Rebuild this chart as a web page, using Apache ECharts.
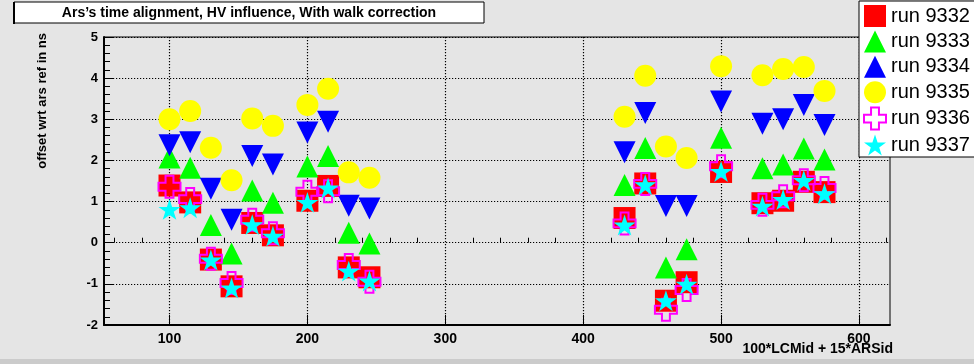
<!DOCTYPE html>
<html>
<head>
<meta charset="utf-8">
<script src="https://cdn.jsdelivr.net/npm/echarts@6/dist/echarts.min.js"></script>
<style>
html,body{margin:0;padding:0;background:#e5e5e5;}
#chart{width:974px;height:364px;}
</style>
</head>
<body>
<div id="chart"></div>
<script>
// ---- data ----
const xPositions = [100, 115, 130, 145, 160, 175, 200, 215, 230, 245, 430, 445, 460, 475, 500, 530, 545, 560, 575];
const run9332 = [1.39, 0.98, -0.41, -1.06, 0.48, 0.18, 1.02, 1.38, -0.60, -0.84, 0.60, 1.44, -1.41, -0.96, 1.72, 0.96, 1.02, 1.48, 1.23];
const run9333 = [2.07, 1.82, 0.43, -0.26, 1.27, 0.97, 1.85, 2.11, 0.24, -0.02, 1.40, 2.30, -0.60, -0.16, 2.55, 1.81, 1.90, 2.29, 2.02];
const run9334 = [2.37, 2.44, 1.31, 0.56, 2.11, 1.90, 2.68, 2.94, 0.90, 0.83, 2.20, 3.15, 0.89, 0.89, 3.43, 2.89, 3.00, 3.35, 2.86];
const run9335 = [3.00, 3.20, 2.31, 1.52, 3.02, 2.84, 3.35, 3.74, 1.71, 1.58, 3.06, 4.06, 2.34, 2.06, 4.29, 4.07, 4.22, 4.27, 3.69];
const run9336 = [1.36, 1.06, -0.39, -0.98, 0.56, 0.23, 1.24, 1.25, -0.54, -0.95, 0.47, 1.43, -1.63, -1.15, 1.86, 0.92, 1.13, 1.52, 1.33];
const run9337 = [0.81, 0.85, -0.42, -1.10, 0.44, 0.16, 0.98, 1.33, -0.69, -0.93, 0.43, 1.41, -1.41, -1.01, 1.73, 0.89, 1.05, 1.51, 1.19];
const seriesNames = ['run 9332', 'run 9333', 'run 9334', 'run 9335', 'run 9336', 'run 9337'];
const xMajorTicks = [100, 200, 300, 400, 500, 600];
const xMinorTicks = [60, 80, 120, 140, 160, 180, 220, 240, 260, 280, 320, 340, 360, 380, 420, 440, 460, 480, 520, 540, 560, 580, 620];
const titleText = 'Ars\u2019s time alignment, HV influence, With walk correction';
const xAxisTitle = '100*LCMid + 15*ARSid';
const yAxisTitle = 'offset wrt ars ref in ns';

// ---- styling ----
const FONT = "'Liberation Sans', Arial, Helvetica, sans-serif";
const STAR = 'path://M50,0 L61.23,34.55 L97.55,34.55 L68.17,55.9 L79.39,90.45 L50,69.1 L20.61,90.45 L31.83,55.9 L2.45,34.55 L38.77,34.55 Z';
const CROSS = 'path://M32,0 H68 V32 H100 V68 H68 V100 H32 V68 H0 V32 H32 Z';

const values = [run9332, run9333, run9334, run9335, run9336, run9337];
const styles = [
  {symbol: 'rect', size: 22, rotate: 0, item: {color: '#ff0000'}},
  {symbol: 'triangle', size: 22, rotate: 0, item: {color: '#00ff00'}},
  {symbol: 'triangle', size: 22, rotate: 180, item: {color: '#0000ff'}},
  {symbol: 'circle', size: 22, rotate: 0, item: {color: '#ffff00'}},
  {symbol: CROSS, size: 22, rotate: 0, item: {color: 'rgba(0,0,0,0)', borderColor: '#ff00ff', borderWidth: 2}},
  {symbol: STAR, size: 22, rotate: 0, item: {color: '#00ffff'}}
];

const series = values.map((vals, i) => ({
  name: seriesNames[i],
  type: 'scatter',
  xAxisIndex: 0,
  yAxisIndex: 0,
  symbol: styles[i].symbol,
  symbolSize: styles[i].size,
  symbolRotate: styles[i].rotate,
  symbolKeepAspect: true,
  itemStyle: Object.assign({opacity: 1}, styles[i].item),
  emphasis: {disabled: true},
  data: xPositions.map((x, j) => [x, vals[j]])
}));

const gridLine = {show: true, lineStyle: {color: '#000', width: 1.2, type: [1.2, 1.8]}};
const chart = echarts.init(document.getElementById('chart'), null, {renderer: 'canvas'});
chart.setOption({
  animation: false,
  backgroundColor: '#e5e5e5',
  textStyle: {fontFamily: FONT},
  grid: {left: 104, right: 84, top: 37, bottom: 39, show: true, borderColor: '#000', borderWidth: 1,
         backgroundColor: 'transparent', containLabel: false, outerBoundsMode: 'none'},
  xAxis: [{
    type: 'value', min: 52.5, max: 622.5, position: 'bottom',
    axisLine: {show: true, onZero: false, lineStyle: {color: '#000', width: 2}},
    axisTick: {show: true, inside: true, length: 10, customValues: xMajorTicks, lineStyle: {color: '#000', width: 1}},
    axisLabel: {show: true, customValues: xMajorTicks, margin: 7, color: '#000', fontFamily: FONT, fontWeight: 'bold', fontSize: 14},
    splitLine: gridLine
  }, {
    type: 'value', min: 52.5, max: 622.5, position: 'bottom', gridIndex: 0,
    axisLine: {show: false},
    axisTick: {show: true, inside: true, length: 5, customValues: xMinorTicks, lineStyle: {color: '#000', width: 1}},
    axisLabel: {show: false},
    splitLine: {show: false}
  }],
  yAxis: {
    type: 'value', min: -2, max: 5, interval: 1,
    axisLine: {show: true, onZero: false, lineStyle: {color: '#000', width: 2}},
    axisTick: {show: true, inside: true, length: 10, lineStyle: {color: '#000', width: 1}},
    minorTick: {show: true, splitNumber: 5, length: 6, lineStyle: {color: '#000', width: 1}},
    axisLabel: {margin: 6, color: '#000', fontFamily: FONT, fontWeight: 'bold', fontSize: 13},
    splitLine: gridLine
  },
  legend: {
    orient: 'vertical', left: 859, top: 1,
    padding: [4, 20, 1, 4], itemWidth: 22, itemHeight: 22, itemGap: 3.4,
    backgroundColor: '#ffffff', borderColor: '#000', borderWidth: 1,
    selectedMode: false,
    textStyle: {color: '#000', fontFamily: FONT, fontSize: 20, lineHeight: 22},
    data: seriesNames
  },
  graphic: [
    {type: 'rect', shape: {x: 0, y: 359, width: 974, height: 5}, style: {fill: '#cbcbcb'}, z: 1},
    {type: 'rect', shape: {x: 14, y: 2, width: 470, height: 21}, style: {fill: '#fff', stroke: '#000', lineWidth: 1}, z: 10},
    {type: 'rect', shape: {x: 13, y: 2, width: 2, height: 22}, style: {fill: '#000'}, z: 11},
    {type: 'text', x: 249, y: 13, style: {text: titleText, textAlign: 'center', textVerticalAlign: 'middle', font: "bold 14px 'Liberation Sans', Arial, sans-serif", fill: '#000'}, z: 12},
    {type: 'text', x: 42, y: 33, rotation: Math.PI / 2, style: {text: yAxisTitle, textAlign: 'right', textVerticalAlign: 'middle', font: "bold 13px 'Liberation Sans', Arial, sans-serif", fill: '#000'}, z: 12},
    {type: 'text', x: 893, y: 349, style: {text: xAxisTitle, textAlign: 'right', textVerticalAlign: 'middle', font: "bold 14px 'Liberation Sans', Arial, sans-serif", fill: '#000'}, z: 12}
  ],
  series: series
});
</script>
</body>
</html>
